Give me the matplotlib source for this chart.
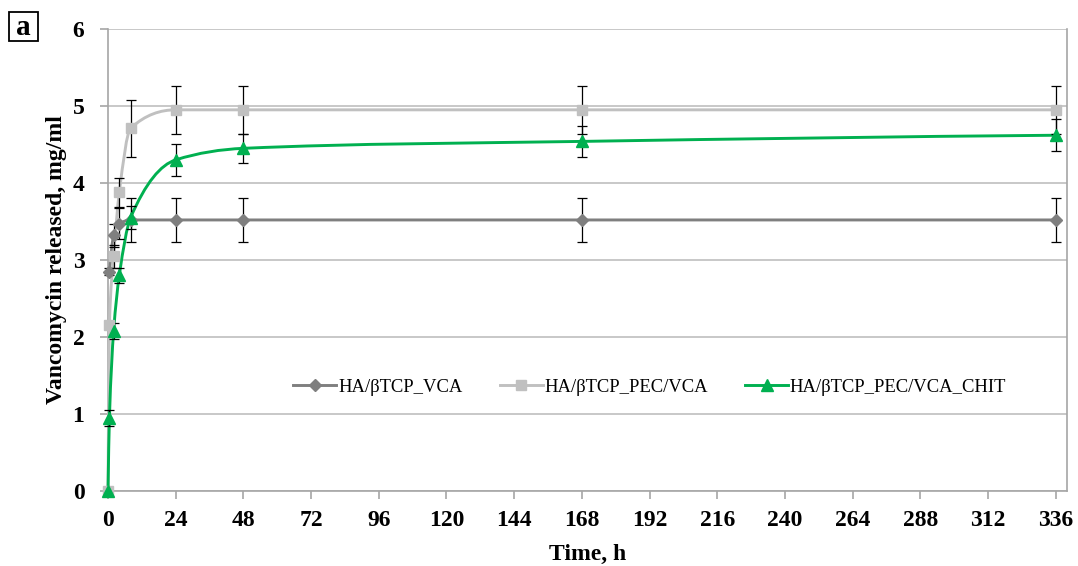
import matplotlib.pyplot as plt
import numpy as np
from matplotlib.path import Path
from matplotlib.patches import PathPatch, Rectangle
from matplotlib.lines import Line2D

plt.rcParams['font.family'] = ['Liberation Serif', 'DejaVu Serif']

# release data, hours vs mg/ml
t_vca = [0.5, 2, 4, 8, 24, 48, 168, 336]
vca = [2.85, 3.32, 3.47, 3.52, 3.52, 3.52, 3.52, 3.52]
vca_err = [0.05, 0.15, 0.2, 0.28, 0.29, 0.29, 0.29, 0.29]

t_pec = [0, 0.5, 2, 4, 8, 24, 48, 168, 336]
pec = [0, 2.16, 3.05, 3.88, 4.71, 4.95, 4.95, 4.95, 4.95]
pec_err = [0, 0.05, 0.15, 0.19, 0.37, 0.31, 0.31, 0.31, 0.31]

t_chit = [0, 0.5, 2, 4, 8, 24, 48, 168, 336]
chit = [0, 0.95, 2.08, 2.8, 3.55, 4.3, 4.45, 4.54, 4.62]
chit_err = [0, 0.1, 0.1, 0.1, 0.15, 0.21, 0.19, 0.2, 0.21]

labels = ['HA/βTCP_VCA', 'HA/βTCP_PEC/VCA', 'HA/βTCP_PEC/VCA_CHIT']
colors = ['#7f7f7f', '#c0c0c0', '#00b050']
markers = ['D', 's', '^']
msizes = [6, 7.5, 8.5]


def pchip_slopes(x, y):
    # Fritsch-Carlson slopes so the smoothed line does not overshoot
    h = np.diff(x)
    d = np.diff(y) / h
    n = len(x)
    m = np.zeros(n)
    for i in range(1, n - 1):
        if d[i - 1] * d[i] > 0:
            w1 = 2 * h[i] + h[i - 1]
            w2 = h[i] + 2 * h[i - 1]
            m[i] = (w1 + w2) / (w1 / d[i - 1] + w2 / d[i])
    m[0] = ((2 * h[0] + h[1]) * d[0] - h[0] * d[1]) / (h[0] + h[1])
    if np.sign(m[0]) != np.sign(d[0]):
        m[0] = 0
    elif np.sign(d[0]) != np.sign(d[1]) and abs(m[0]) > abs(3 * d[0]):
        m[0] = 3 * d[0]
    m[-1] = ((2 * h[-1] + h[-2]) * d[-1] - h[-1] * d[-2]) / (h[-1] + h[-2])
    if np.sign(m[-1]) != np.sign(d[-1]):
        m[-1] = 0
    return m


def smooth_path(x, y):
    x = np.asarray(x, float)
    y = np.asarray(y, float)
    m = pchip_slopes(x, y)
    verts = [(x[0], y[0])]
    codes = [Path.MOVETO]
    for i in range(len(x) - 1):
        h = x[i + 1] - x[i]
        verts += [(x[i] + h / 3, y[i] + m[i] * h / 3),
                  (x[i + 1] - h / 3, y[i + 1] - m[i + 1] * h / 3),
                  (x[i + 1], y[i + 1])]
        codes += [Path.CURVE4] * 3
    return Path(verts, codes)


fig = plt.figure(figsize=(10.78, 5.66), dpi=100)
ax = fig.add_axes([0.1002, 0.1325, 0.8896, 0.8163])

series = [(t_vca, vca, vca_err), (t_pec, pec, pec_err), (t_chit, chit, chit_err)]
handles = []
for (tx, ty, te), c, m, ms, lab in zip(series, colors, markers, msizes, labels):
    ax.add_patch(PathPatch(smooth_path(tx, ty), fill=False, edgecolor=c,
                           lw=2.1, zorder=3, clip_on=False))
    ax.errorbar(tx, ty, yerr=te, fmt='none', ecolor='black', elinewidth=0.9,
                capsize=3.8, capthick=0.9, zorder=4, clip_on=False)
    ax.plot(tx, ty, ls='none', marker=m, ms=ms, color=c, zorder=5, clip_on=False)
    handles.append(Line2D([], [], color=c, lw=2.1, marker=m, ms=ms, label=lab))

ax.set_xlim(0, 340)
ax.set_ylim(0, 6)
ax.set_xticks(np.arange(0, 337, 24))
ax.set_yticks(np.arange(0, 7, 1))
ax.grid(axis='y', color='#bfbfbf', lw=1.2, zorder=0)
ax.set_axisbelow(True)
for s in ['left', 'right', 'bottom']:
    ax.spines[s].set_color('#a6a6a6')
    ax.spines[s].set_linewidth(1.2)
ax.spines['top'].set_visible(False)
ax.tick_params(axis='both', direction='out', length=6, color='#a6a6a6', width=1.2,
               labelsize=17)
ax.tick_params(axis='x', pad=8)
ax.tick_params(axis='y', pad=11)
for lb in ax.get_xticklabels() + ax.get_yticklabels():
    lb.set_fontweight('bold')

ax.set_xlabel('Time, h', fontsize=17, fontweight='bold', labelpad=9)
ax.set_ylabel('Vancomycin released, mg/ml', fontsize=17, fontweight='bold', labelpad=4)

ax.legend(handles=handles, loc='center', bbox_to_anchor=(0.565, 0.225), ncol=3,
          frameon=False, fontsize=13.4, handlelength=2.3, columnspacing=2.0,
          handletextpad=0.1)

fig.text(0.0218, 0.952, 'a', fontsize=21, fontweight='bold', va='center', ha='center')
fig.patches.append(Rectangle((0.00835, 0.9276), 0.0269, 0.0512,
                             transform=fig.transFigure, fill=False,
                             edgecolor='black', lw=1.3))

fig.savefig('out.png', dpi=100)
